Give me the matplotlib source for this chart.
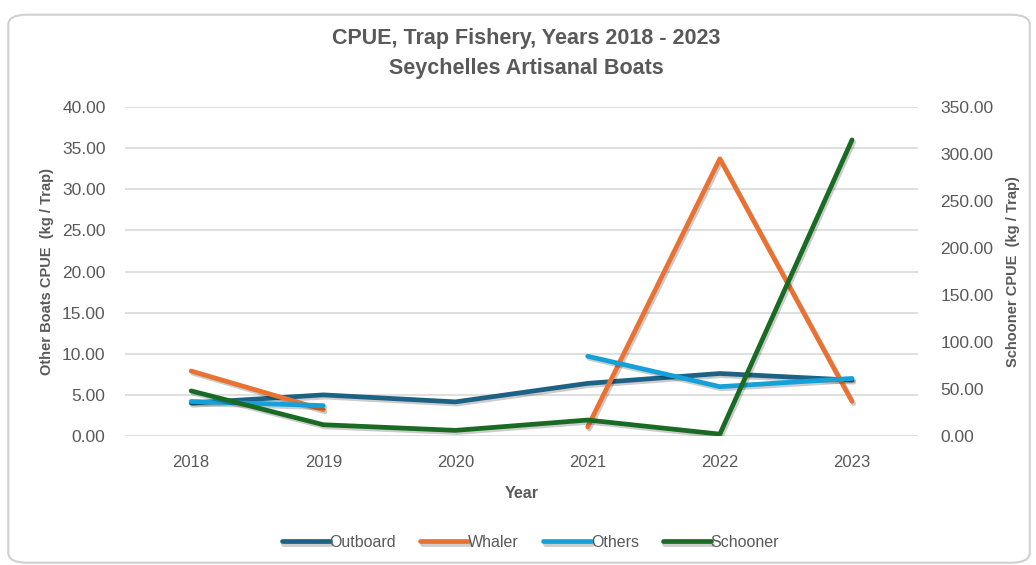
import numpy as np
import matplotlib
matplotlib.use('Agg')
import matplotlib.pyplot as plt
import matplotlib.patheffects as pe
from matplotlib.patches import FancyBboxPatch

# data
years = ['2018', '2019', '2020', '2021', '2022', '2023']
outboard = [4.0, 5.0, 4.15, 6.4, 7.6, 6.8]
whaler = [7.9, 3.2, np.nan, 1.1, 33.7, 4.2]
others = [4.2, 3.7, np.nan, 9.7, 6.0, 7.0]
schooner = [48.0, 12.0, 6.0, 17.0, 2.0, 315.0]

left_ticks = np.arange(0, 41, 5)
right_ticks = np.arange(0, 351, 50)

C_OUT, C_WHA, C_OTH, C_SCH = '#1d6185', '#e97132', '#14a0d9', '#196b24'
GREY = '#595959'
plt.rcParams['font.family'] = ['Liberation Sans', 'DejaVu Sans']

fig = plt.figure(figsize=(10.36, 5.65), dpi=100)

# chart border
border = FancyBboxPatch((0.008, 0.004), 0.986, 0.97, boxstyle='round,pad=0,rounding_size=0.018',
                        transform=fig.transFigure, fc='white', ec='#d0d0d0', lw=1.5, zorder=-5)
fig.patches.append(border)

ax = fig.add_axes([0.1207, 0.2283, 0.7655, 0.5823])
ax2 = ax.twinx()

x = np.arange(len(years))
shadow = [pe.SimpleLineShadow(offset=(1.2, -1.6), shadow_color='black', alpha=0.2), pe.Normal()]
lw = 3.4
l1, = ax.plot(x, outboard, color=C_OUT, lw=lw, solid_capstyle='round', path_effects=shadow, label='Outboard')
l2, = ax.plot(x, whaler, color=C_WHA, lw=lw, solid_capstyle='round', path_effects=shadow, label='Whaler')
l3, = ax.plot(x, others, color=C_OTH, lw=lw, solid_capstyle='round', path_effects=shadow, label='Others')
l4, = ax2.plot(x, schooner, color=C_SCH, lw=lw, solid_capstyle='round', path_effects=shadow, label='Schooner')

ax.set_xlim(-0.5, 5.5)
ax.set_ylim(0, 40); ax2.set_ylim(0, 350)
ax.set_yticks(left_ticks); ax2.set_yticks(right_ticks)
ax.set_yticklabels([f'{v:.2f}' for v in left_ticks])
ax2.set_yticklabels([f'{v:.2f}' for v in right_ticks])
ax.set_xticks(x); ax.set_xticklabels(years)
ax.grid(axis='y', color='#d9d9d9', lw=1.2)
ax.set_axisbelow(True)
ax.patch.set_visible(False)
for a in (ax, ax2):
    for s in a.spines.values():
        s.set_visible(False)
    a.tick_params(length=0, labelsize=12.5, colors=GREY)
ax.tick_params(axis='y', pad=14)
ax2.tick_params(axis='y', pad=16)
ax.tick_params(axis='x', labelsize=12, pad=14)

ax.set_xlabel('Year', fontsize=11.5, fontweight='bold', color=GREY, labelpad=11)
ax.set_ylabel('Other Boats CPUE  (kg / Trap)', fontsize=10.5, fontweight='bold', color=GREY, labelpad=6)
ax2.set_ylabel('Schooner CPUE  (kg / Trap)', fontsize=10.5, fontweight='bold', color=GREY, labelpad=9)

fig.text(0.508, 0.932, 'CPUE, Trap Fishery, Years 2018 - 2023', ha='center', va='center',
         fontsize=15.5, fontweight='bold', color=GREY)
fig.text(0.508, 0.879, 'Seychelles Artisanal Boats', ha='center', va='center',
         fontsize=15.5, fontweight='bold', color=GREY)

fig.legend([l1, l2, l3, l4], ['Outboard', 'Whaler', 'Others', 'Schooner'], loc='center',
           bbox_to_anchor=(0.512, 0.04), ncol=4, frameon=False, fontsize=11.5,
           handlelength=3.0, handletextpad=0.0, columnspacing=1.5, labelcolor=GREY)

fig.savefig('out.png', dpi=100)
